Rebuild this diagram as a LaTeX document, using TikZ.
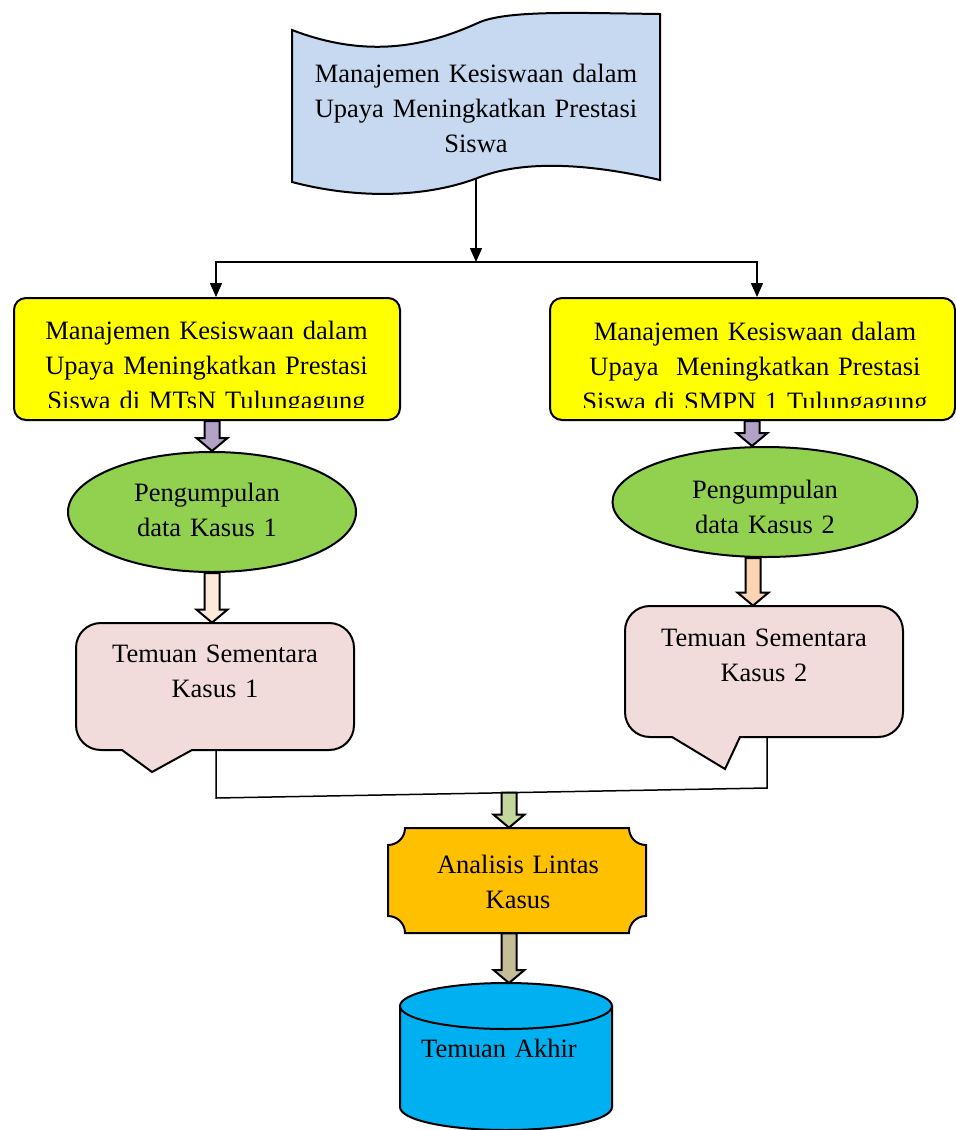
\documentclass[tikz,border=0pt]{standalone}
\usepackage{fontspec}
\setmainfont{Liberation Serif}
\usetikzlibrary{arrows.meta,calc,shapes.geometric}

\definecolor{docblue}{HTML}{C6D9F1}
\definecolor{boxyellow}{HTML}{FFFF00}
\definecolor{ovalgreen}{HTML}{92D050}
\definecolor{notepink}{HTML}{F2DCDB}
\definecolor{plaqueorange}{HTML}{FFC000}
\definecolor{drumblue}{HTML}{00B0F0}
\definecolor{arrowpurple}{HTML}{B3A2C7}
\definecolor{arrowpeachA}{HTML}{FDE9D9}
\definecolor{arrowpeachB}{HTML}{FBD4B4}
\definecolor{arrowgreen}{HTML}{C3D69B}
\definecolor{arrowtan}{HTML}{C4BD97}

\tikzset{
  line/.style={draw=black, line width=0.75pt},
  arr/.style={line, -{Triangle[width=6pt,length=7pt]}},
  outline/.style={draw=black, line width=1pt},
  txt/.style={font=\fontsize{13.25pt}{17.5pt}\selectfont, align=center,
    inner sep=0pt, anchor=base, text width=#1},
  txt/.default=180pt,
  ybox/.style={outline, fill=boxyellow, rounded corners=6pt,
    minimum height=61pt, inner sep=0pt},
  oval/.style={ellipse, outline, fill=ovalgreen, inner sep=0pt},
  frame/.style={rectangle, inner sep=0pt},
  blockarrow/.style={outline, fill=#1,
    to path={let \p1=(\tikztostart), \p2=(\tikztotarget) in
      (\x2-3.75pt,\y1) -- (\x2+3.75pt,\y1) -- (\x2+3.75pt,\y2+6.5pt)
      -- (\x2+7.75pt,\y2+6.5pt) -- (\x2,\y2) -- (\x2-7.75pt,\y2+6.5pt)
      -- (\x2-3.75pt,\y2+6.5pt) -- cycle}}
}

\begin{document}
\begin{tikzpicture}[x=0.5pt,y=-0.5pt]
\useasboundingbox (0,0) rectangle (956,1130);

% wavy document at the top
\path[outline, fill=docblue]
  (292,30) .. controls (370,60) and (430,45) .. (480,22)
  .. controls (510,10) and (580,13) .. (660,14)
  -- (660,180)
  .. controls (600,166) and (530,158) .. (480,177)
  .. controls (430,197) and (360,200) .. (292,182) -- cycle;
\node[txt=175pt] (doc) at (476,82)
  {Manajemen Kesiswaan dalam\\Upaya Meningkatkan Prestasi\\Siswa};
\coordinate (docb) at (476,179);
\coordinate (split) at (476,262);

% the two school boxes
\node[ybox, minimum width=193pt] (y1) at (207,359) {};
\node[ybox, minimum width=202.5pt] (y2) at (752.5,359) {};
\begin{scope}
  \clip (14,298) rectangle (956,407);
  \node[txt] (y1t) at (206.5,339)
    {Manajemen Kesiswaan dalam\\Upaya Meningkatkan Prestasi\\Siswa di MTsN Tulungagung};
  \node[txt] (y2t) at (755,340)
    {Manajemen Kesiswaan dalam\\Upaya~ Meningkatkan Prestasi\\Siswa di SMPN 1 Tulungagung};
\end{scope}

\draw[arr] (docb) -- (split);
\draw[arr] (split) -| ([xshift=4.5pt]y1.north);
\draw[arr] (split) -| ([xshift=2.25pt]y2.north);

% data collection ovals
\node[oval, minimum width=144pt, minimum height=60pt] (e1) at (212,512) {};
\node[oval, minimum width=152.5pt, minimum height=55pt] (e2) at (765,502) {};
\node[txt=120pt] (e1t) at (207,501) {Pengumpulan\\data Kasus 1};
\node[txt=120pt] (e2t) at (765,498) {Pengumpulan\\data Kasus 2};

\coordinate (p2) at ([xshift=-6.5pt]e2.north);
\draw[blockarrow=arrowpurple] (y1.south) to (e1.north);
\draw[blockarrow=arrowpurple] (y2.south) to (p2);

% interim findings callouts
\node[frame, minimum width=139pt, minimum height=63.5pt] (t1) at (215,686.5) {};
\node[frame, minimum width=139pt, minimum height=65.5pt] (t2) at (764,671.5) {};
\path[outline, fill=notepink]
  (76,648) .. controls (76,634) and (87,623) .. (101,623) -- (329,623)
  .. controls (343,623) and (354,634) .. (354,648) -- (354,725)
  .. controls (354,739) and (343,750) .. (329,750) -- (192,750)
  -- (152,772) -- (122,750) -- (101,750)
  .. controls (87,750) and (76,739) .. (76,725) -- cycle;
\path[outline, fill=notepink]
  (625,631) .. controls (625,617) and (636,606) .. (650,606) -- (878,606)
  .. controls (892,606) and (903,617) .. (903,631) -- (903,712)
  .. controls (903,726) and (892,737) .. (878,737) -- (740,737)
  -- (725,769) -- (672,737) -- (650,737)
  .. controls (636,737) and (625,726) .. (625,712) -- cycle;
\node[txt=130pt] (t1t) at (215,662) {Temuan Sementara\\Kasus 1};
\node[txt=130pt] (t2t) at (764,646) {Temuan Sementara\\Kasus 2};

\coordinate (q1) at ([xshift=-1.5pt]t1.north);
\coordinate (q2) at ([xshift=-5.5pt]t2.north);
\draw[blockarrow=arrowpeachA] (e1.south) to (q1);
\draw[blockarrow=arrowpeachB] (e2.south) to (q2);

% merging line
\coordinate (m1) at (216,798);
\coordinate (m2) at (767,788);
\draw[line] ([xshift=0.5pt]t1.south) -- (m1) -- (m2) -- ([xshift=1.5pt]t2.south);
\coordinate (m) at ($(m1)!0.5317!(m2)$);

% cross-case analysis plaque
\node[frame, minimum width=129pt, minimum height=52.5pt] (ana) at (517,880.5) {};
\path[outline, fill=plaqueorange]
  (405,828) -- (629,828) .. controls (629,837.4) and (636.6,845) .. (646,845)
  -- (646,916) .. controls (636.6,916) and (629,923.6) .. (629,933)
  -- (405,933) .. controls (405,923.6) and (397.4,916) .. (388,916)
  -- (388,845) .. controls (397.4,845) and (405,837.4) .. (405,828) -- cycle;
\node[txt=120pt] (anat) at (518,873) {Analisis Lintas\\Kasus};

\coordinate (pa) at ([xshift=-4pt]ana.north);
\draw[blockarrow=arrowgreen] (m) to (pa);

% final findings drum
\path[outline, fill=drumblue]
  (400,1006) -- (400,1107) .. controls (400,1120) and (447.5,1130) .. (506,1130)
  .. controls (564.5,1130) and (612,1120) .. (612,1107) -- (612,1006) -- cycle;
\path[outline, fill=drumblue] (506,1006) ellipse [x radius=106, y radius=23];
\node[txt=120pt] (cyl) at (499,1057) {Temuan Akhir};
\coordinate (cyltop) at (509,983);

\draw[blockarrow=arrowtan] (ana.south) to (cyltop);
\end{tikzpicture}
\end{document}
